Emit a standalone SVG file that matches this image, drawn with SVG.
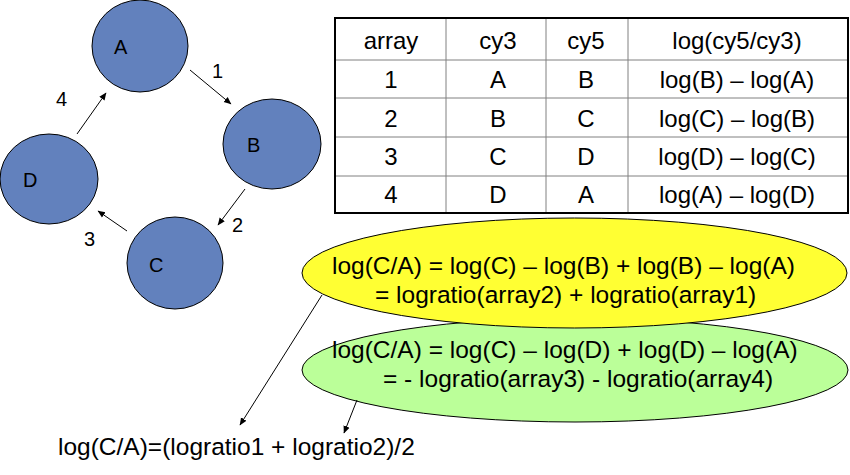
<svg xmlns="http://www.w3.org/2000/svg" width="850" height="475" viewBox="0 0 850 475">
<defs>
<marker id="ah" markerWidth="8" markerHeight="8" refX="7" refY="4" orient="auto" markerUnits="userSpaceOnUse">
<path d="M0,0.8 L7.5,4 L0,7.2 Z" fill="#000"/>
</marker>
<style>
text{font-family:"Liberation Sans",Arial,sans-serif;fill:#000}
.node{fill:#6281BD;stroke:#000;stroke-width:1}
.nl{font-size:20px}
.num{font-size:20px}
.conn{stroke:#000;stroke-width:1;fill:none;marker-end:url(#ah)}
.tc{font-size:24px;text-anchor:middle}
.eq{font-size:24.5px}
.grid{stroke:#808080;stroke-width:1}
</style>
</defs>
<rect width="850" height="475" fill="#fff"/>
<g id="nodeA"><ellipse class="node" cx="140" cy="46" rx="48" ry="46"/><text class="nl" x="114" y="54">A</text></g>
<g id="nodeB"><ellipse class="node" cx="272" cy="144" rx="49" ry="45"/><text class="nl" x="247" y="152">B</text></g>
<g id="nodeC"><ellipse class="node" cx="175" cy="263" rx="48" ry="46"/><text class="nl" x="149" y="272">C</text></g>
<g id="nodeD"><ellipse class="node" cx="49" cy="179" rx="49" ry="45"/><text class="nl" x="23" y="187">D</text></g>
<g id="table">
<rect x="335" y="18" width="513" height="195" fill="#fff" stroke="none"/>
<line class="grid" x1="446" y1="18" x2="446" y2="213"/>
<line class="grid" x1="546" y1="18" x2="546" y2="213"/>
<line class="grid" x1="628" y1="18" x2="628" y2="213"/>
<line class="grid" x1="335" y1="60" x2="848" y2="60"/>
<line class="grid" x1="335" y1="98" x2="848" y2="98"/>
<line class="grid" x1="335" y1="137" x2="848" y2="137"/>
<line class="grid" x1="335" y1="176" x2="848" y2="176"/>
<rect x="335" y="18" width="513" height="195" fill="none" stroke="#000" stroke-width="2"/>
<text class="tc" x="391" y="49">array</text><text class="tc" x="498" y="49">cy3</text><text class="tc" x="586" y="49">cy5</text><text class="tc" x="737" y="49">log(cy5/cy3)</text>
<text class="tc" x="391" y="88">1</text><text class="tc" x="498" y="88">A</text><text class="tc" x="586" y="88">B</text><text class="tc" x="737" y="88">log(B) – log(A)</text>
<text class="tc" x="391" y="127">2</text><text class="tc" x="498" y="127">B</text><text class="tc" x="586" y="127">C</text><text class="tc" x="737" y="127">log(C) – log(B)</text>
<text class="tc" x="391" y="165">3</text><text class="tc" x="498" y="165">C</text><text class="tc" x="586" y="165">D</text><text class="tc" x="737" y="165">log(D) – log(C)</text>
<text class="tc" x="391" y="203">4</text><text class="tc" x="498" y="203">D</text><text class="tc" x="586" y="203">A</text><text class="tc" x="737" y="203">log(A) – log(D)</text>
</g>
<g id="green"><ellipse cx="575" cy="370" rx="273" ry="52" fill="#BBFF99" stroke="#000" stroke-width="1"/>
<text class="eq" x="332" y="358">log(C/A) = log(C) – log(D) + log(D) – log(A)</text>
<text class="eq" x="383" y="387">= - logratio(array3) - logratio(array4)</text></g>
<g id="yellow"><ellipse cx="574.5" cy="273" rx="272.5" ry="55" fill="#FFFF33" stroke="#000" stroke-width="1"/>
<text class="eq" x="332" y="274">log(C/A) = log(C) – log(B) + log(B) – log(A)</text>
<text class="eq" x="375" y="303">= logratio(array2) + logratio(array1)</text></g>
<g id="result"><text x="58" y="455" style="font-size:24.5px">log(C/A)=(logratio1 + logratio2)/2</text></g>
<g id="connectors">
<line class="conn" x1="190" y1="70" x2="231" y2="104"/>
<line class="conn" x1="245" y1="189" x2="218" y2="225"/>
<line class="conn" x1="127" y1="231" x2="98" y2="211"/>
<line class="conn" x1="77" y1="134" x2="106" y2="93"/>
<line class="conn" x1="322" y1="295" x2="240" y2="425"/>
<line class="conn" x1="357" y1="400" x2="344" y2="433"/>
<text class="num" x="212" y="78">1</text>
<text class="num" x="232" y="232">2</text>
<text class="num" x="84" y="246">3</text>
<text class="num" x="56" y="106">4</text>
</g>
</svg>
